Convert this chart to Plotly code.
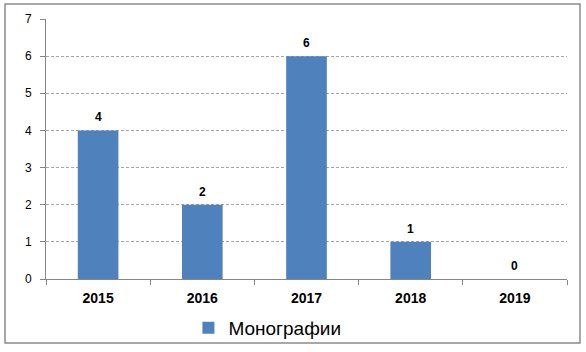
import plotly.graph_objects as go

years = ["2015", "2016", "2017", "2018", "2019"]
values = [4, 2, 6, 1, 0]
series_name = "Монографии"

L, R, T, B = 46, 19, 19, 73
W, H = 586, 352
pw, ph = W - L - R, H - T - B

fig = go.Figure()
fig.add_trace(go.Bar(
    x=years, y=values, name=series_name,
    marker=dict(color="#4F81BD", line=dict(width=0)),
    width=0.39,
))

# category positions on the category axis are the indices of the categories
for i, v in enumerate(values):
    fig.add_annotation(x=i, y=v, text="<b>%d</b>" % v, showarrow=False,
                       yshift=13, font=dict(family="Liberation Sans, Arial", size=12, color="#000000"))

def px_x(p):
    return (p - L) / pw

def px_y(p):
    return (H - B - p) / ph

fig.add_shape(type="rect", xref="paper", yref="paper",
              x0=px_x(5), x1=px_x(580), y0=px_y(343), y1=px_y(4),
              line=dict(color="#8C8C8C", width=1.5), fillcolor="rgba(0,0,0,0)", layer="below")

fig.update_layout(
    width=W, height=H,
    margin=dict(l=L, r=R, t=T, b=B, autoexpand=False),
    paper_bgcolor="white", plot_bgcolor="white",
    font=dict(family="Liberation Sans, Arial", color="#000000"),
    bargap=0.61,
    showlegend=True,
    legend=dict(orientation="h", x=0.425, xanchor="center",
                yref="container", y=1 - 328 / H, yanchor="middle",
                bgcolor="rgba(0,0,0,0)",
                font=dict(size=19)),
    xaxis=dict(
        type="category", showline=True, linecolor="#868686", linewidth=1,
        ticks="outside", ticklen=5, tickcolor="#868686", tickson="boundaries",
        tickfont=dict(size=14, family="Liberation Sans, Arial"),
        tickprefix="<b>", ticksuffix="</b>", ticklabelstandoff=6,
        showgrid=False, range=[-0.5, 4.5],
    ),
    yaxis=dict(
        range=[0, 7], dtick=1, showline=True, linecolor="#868686", linewidth=1,
        ticks="outside", ticklen=5, tickcolor="#868686",
        showgrid=True, gridcolor="#A6A6A6", griddash="3px,2px", gridwidth=1,
        tickfont=dict(size=12), zeroline=False, ticklabelstandoff=6,
    ),
)

fig.write_html("out.html")
